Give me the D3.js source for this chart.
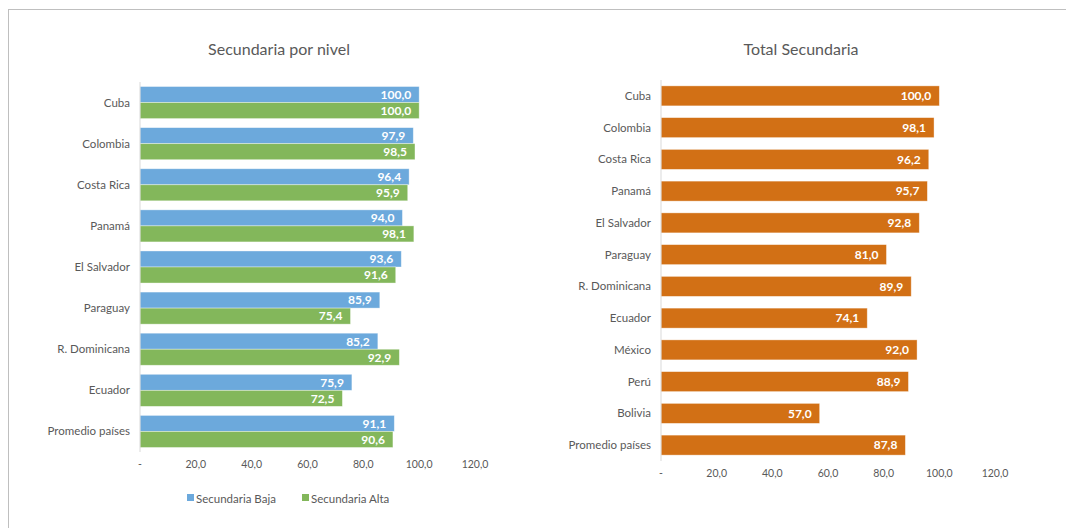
<!DOCTYPE html>
<html>
<head>
<meta charset="utf-8">
<script src="https://cdn.jsdelivr.net/npm/d3@7"></script>
<style>
  body { margin: 0; background: #fff; font-family: Lato, "Open Sans", sans-serif; }
  svg text { fill: #595959; }
</style>
</head>
<body>
<svg id="chart" width="1066" height="528"></svg>
<script>
// left chart data
var nivelPaises = ["Cuba", "Colombia", "Costa Rica", "Panamá", "El Salvador", "Paraguay", "R. Dominicana", "Ecuador", "Promedio países"];
var secBaja = [100.0, 97.9, 96.4, 94.0, 93.6, 85.9, 85.2, 75.9, 91.1];
var secAlta = [100.0, 98.5, 95.9, 98.1, 91.6, 75.4, 92.9, 72.5, 90.6];
var seriesNames = ["Secundaria Baja", "Secundaria Alta"];

// right chart data
var totalPaises = ["Cuba", "Colombia", "Costa Rica", "Panamá", "El Salvador", "Paraguay", "R. Dominicana", "Ecuador", "México", "Perú", "Bolivia", "Promedio países"];
var totalSec = [100.0, 98.1, 96.2, 95.7, 92.8, 81.0, 89.9, 74.1, 92.0, 88.9, 57.0, 87.8];

var ticks = [0, 20, 40, 60, 80, 100, 120];

var azul = "#6CA9DC", verde = "#83B75B", naranja = "#D27015";

function fmt(v) {
    return v === 0 ? "-" : v.toFixed(1).replace(".", ",");
}

var svg = d3.select("#chart");

// outer frame
svg.append("rect")
    .attr("x", 8.5).attr("y", 9.5)
    .attr("width", 1070).attr("height", 530)
    .attr("fill", "none")
    .attr("stroke", "#BFBFBF");

function drawAxes(g, x, y, h, labelX) {
    // category labels
    g.selectAll(".cat")
        .data(y.domain())
        .enter()
        .append("text")
        .attr("x", labelX)
        .attr("y", d => y(d) + y.bandwidth() / 2)
        .attr("dy", "0.35em")
        .attr("text-anchor", "end")
        .style("font-size", "11.5px")
        .text(d => d);

    // x tick labels
    g.selectAll(".tick")
        .data(ticks)
        .enter()
        .append("text")
        .attr("x", d => x(d))
        .attr("y", h + 16)
        .attr("text-anchor", "middle")
        .style("font-size", "10.5px")
        .text(fmt);

    // vertical axis line
    g.append("line")
        .attr("x1", x(0)).attr("x2", x(0))
        .attr("y1", 0).attr("y2", h)
        .attr("stroke", "#D9D9D9");
}

// ---- left: Secundaria por nivel ----
(function() {
    var left = 140, top = 82, h = 370;
    var g = svg.append("g").attr("transform", `translate(${left},${top})`);

    var x = d3.scaleLinear().domain([0, 120]).range([0, 335]);
    var y = d3.scaleBand().domain(nivelPaises).range([0, h]).paddingInner(0.22).paddingOuter(0.11);
    var sub = d3.scaleBand().domain([0, 1]).range([0, y.bandwidth()]);

    var rows = nivelPaises.map((p, i) => ({ pais: p, vals: [secBaja[i], secAlta[i]] }));

    var grp = g.selectAll(".row")
        .data(rows)
        .enter()
        .append("g")
        .attr("transform", d => `translate(0,${y(d.pais)})`);

    grp.selectAll("rect")
        .data(d => d.vals)
        .enter()
        .append("rect")
        .attr("x", x(0))
        .attr("y", (d, i) => sub(i))
        .attr("width", d => x(d) - x(0))
        .attr("height", sub.bandwidth())
        .attr("fill", (d, i) => i == 0 ? azul : verde)
        .attr("stroke", "#fff")
        .attr("stroke-opacity", 0.5)
        .attr("stroke-width", 0.75);

    grp.selectAll(".val")
        .data(d => d.vals)
        .enter()
        .append("text")
        .attr("x", d => x(d) - 8)
        .attr("y", (d, i) => sub(i) + sub.bandwidth() / 2)
        .attr("dy", "0.36em")
        .attr("text-anchor", "end")
        .style("font-size", "12px")
        .style("font-weight", "bold")
        .style("fill", "#fff")
        .text(fmt);

    drawAxes(g, x, y, h, -10);

    svg.append("text")
        .attr("x", 279).attr("y", 55)
        .attr("text-anchor", "middle")
        .style("font-size", "16px")
        .text("Secundaria por nivel");

    // legend
    var leg = svg.append("g").attr("transform", "translate(187,499)");
    var legX = [0, 115];
    seriesNames.forEach(function(name, i) {
        leg.append("rect")
            .attr("x", legX[i]).attr("y", -5)
            .attr("width", 7).attr("height", 7)
            .attr("fill", i == 0 ? azul : verde);
        leg.append("text")
            .attr("x", legX[i] + 9).attr("y", 0)
            .attr("dy", "0.35em")
            .style("font-size", "11.5px")
            .text(name);
    });
})();

// ---- right: Total Secundaria ----
(function() {
    var left = 661, top = 80, h = 381;
    var g = svg.append("g").attr("transform", `translate(${left},${top})`);

    var x = d3.scaleLinear().domain([0, 120]).range([0, 334]);
    var y = d3.scaleBand().domain(totalPaises).range([0, h]).paddingInner(0.37).paddingOuter(0.185);

    var rows = totalPaises.map((p, i) => ({ pais: p, val: totalSec[i] }));

    g.selectAll("rect")
        .data(rows)
        .enter()
        .append("rect")
        .attr("x", x(0))
        .attr("y", d => y(d.pais))
        .attr("width", d => x(d.val) - x(0))
        .attr("height", y.bandwidth())
        .attr("fill", naranja)
        .attr("stroke", "#fff")
        .attr("stroke-opacity", 0.5)
        .attr("stroke-width", 0.75);

    g.selectAll(".val")
        .data(rows)
        .enter()
        .append("text")
        .attr("x", d => x(d.val) - 8)
        .attr("y", d => y(d.pais) + y.bandwidth() / 2)
        .attr("dy", "0.36em")
        .attr("text-anchor", "end")
        .style("font-size", "12px")
        .style("font-weight", "bold")
        .style("fill", "#fff")
        .text(d => fmt(d.val));

    drawAxes(g, x, y, h, -10);

    svg.append("text")
        .attr("x", 801).attr("y", 55)
        .attr("text-anchor", "middle")
        .style("font-size", "16px")
        .text("Total Secundaria");
})();
</script>
</body>
</html>
